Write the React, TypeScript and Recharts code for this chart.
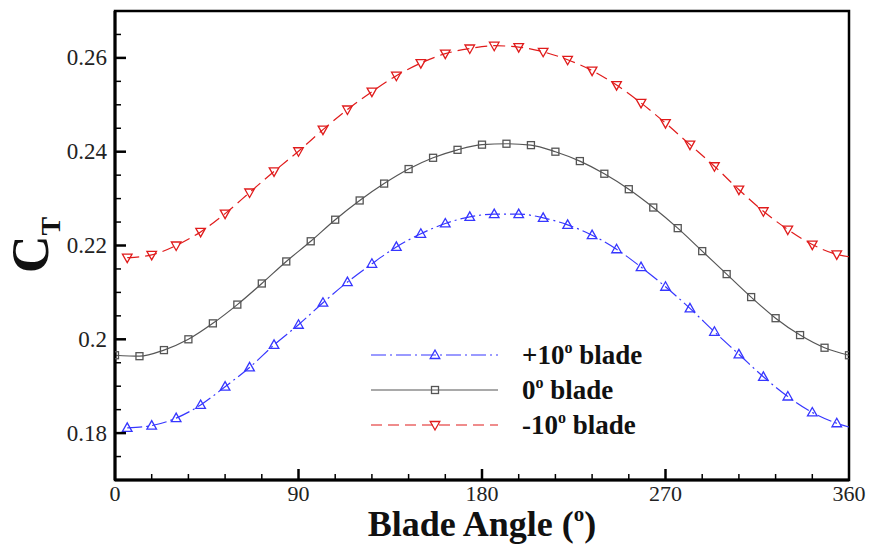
import React, { useLayoutEffect, useEffect, useRef } from 'react';
import { LineChart, Line, XAxis, YAxis, Legend, ReferenceArea } from 'recharts';

// ---- data ----
const sideAngles = [6, 18, 30, 42, 54, 66, 78, 90, 102, 114, 126, 138, 150, 162, 174, 186, 198, 210, 222, 234, 246, 258, 270, 282, 294, 306, 318, 330, 342, 354];
const midAngles = [0, 12, 24, 36, 48, 60, 72, 84, 96, 108, 120, 132, 144, 156, 168, 180, 192, 204, 216, 228, 240, 252, 264, 276, 288, 300, 312, 324, 336, 348, 360];

const plus10 = [0.1811, 0.1816, 0.1832, 0.1860, 0.1899, 0.1940, 0.1988, 0.2031, 0.2078, 0.2122, 0.2161, 0.2197, 0.2225, 0.2247, 0.2261, 0.2267, 0.2267, 0.2259, 0.2244, 0.2222, 0.2192, 0.2154, 0.2112, 0.2066, 0.2016, 0.1968, 0.1920, 0.1878, 0.1844, 0.1821];
const plus10End = 0.1813;

const zero = [0.1966, 0.1964, 0.1977, 0.2000, 0.2034, 0.2074, 0.2119, 0.2166, 0.2209, 0.2255, 0.2296, 0.2332, 0.2363, 0.2387, 0.2404, 0.2415, 0.2417, 0.2414, 0.2400, 0.2380, 0.2353, 0.2320, 0.2281, 0.2237, 0.2188, 0.2139, 0.2090, 0.2045, 0.2009, 0.1982, 0.1966];

const minus10 = [0.2174, 0.2180, 0.2200, 0.2229, 0.2268, 0.2313, 0.2358, 0.2401, 0.2447, 0.2490, 0.2528, 0.2562, 0.2589, 0.2609, 0.2620, 0.2626, 0.2623, 0.2613, 0.2596, 0.2573, 0.2542, 0.2504, 0.2461, 0.2415, 0.2369, 0.2319, 0.2273, 0.2234, 0.2202, 0.2181];
const minus10End = 0.2176;
const endAngle = 360;

const xTicks = [0, 18, 36, 54, 72, 90, 108, 126, 144, 162, 180, 198, 216, 234, 252, 270, 288, 306, 324, 342, 360];
const xLabels = [0, 90, 180, 270, 360];
const yTicks = [0.175, 0.18, 0.185, 0.19, 0.195, 0.2, 0.205, 0.21, 0.215, 0.22, 0.225, 0.23, 0.235, 0.24, 0.245, 0.25, 0.255, 0.26, 0.265];
const yLabels = [0.18, 0.2, 0.22, 0.24, 0.26];

const BLUE = '#3636ff';
const GRAY = '#555555';
const RED = '#e01b1b';
const FONT = 'Liberation Serif';

const blueData = [...sideAngles.map((a, i) => ({ a, v: plus10[i], m: true })), { a: endAngle, v: plus10End, m: false }];
const grayData = midAngles.map((a, i) => ({ a, v: zero[i], m: true }));
const redData = [...sideAngles.map((a, i) => ({ a, v: minus10[i], m: true })), { a: endAngle, v: minus10End, m: false }];

const triUp = (cx: number, cy: number, c: string) => (
  <path d={`M${cx},${cy - 5} L${cx + 4.8},${cy + 3.5} L${cx - 4.8},${cy + 3.5} Z`} fill="none" stroke={c} strokeWidth={1.3} />
);
const triDown = (cx: number, cy: number, c: string) => (
  <path d={`M${cx},${cy + 5} L${cx + 4.8},${cy - 3.5} L${cx - 4.8},${cy - 3.5} Z`} fill="none" stroke={c} strokeWidth={1.3} />
);
const square = (cx: number, cy: number, c: string) => (
  <rect x={cx - 3.5} y={cy - 3.5} width={7} height={7} fill="none" stroke={c} strokeWidth={1.3} />
);

const makeDot = (shape: (cx: number, cy: number, c: string) => any, c: string) => (props: any) => {
  const { cx, cy, payload, index } = props;
  if (!payload || !payload.m || cx == null || cy == null) return <g key={`d${index}`} />;
  return <g key={`d${index}`}>{shape(cx, cy, c)}</g>;
};

const XTick = (props: any) => {
  const { x, y, payload } = props;
  const v = payload.value;
  const major = xLabels.indexOf(v) >= 0;
  return (
    <g>
      {v !== 0 && v !== 360 && (
        <line x1={x} x2={x} y1={y} y2={y - (major ? 11 : 6)} stroke="#000" strokeWidth={major ? 2.5 : 1.5} />
      )}
      {major && (
        <text className="srf" x={x} y={y + 21} textAnchor="middle" fontFamily={FONT} fontSize={22} fill="#222">
          {v}
        </text>
      )}
    </g>
  );
};

const YTick = (props: any) => {
  const { x, y, payload } = props;
  const v = payload.value;
  const major = yLabels.some((l) => Math.abs(l - v) < 1e-9);
  return (
    <g>
      <line x1={x} x2={x + (major ? 11 : 6)} y1={y} y2={y} stroke="#000" strokeWidth={major ? 2.5 : 1.5} />
      {major && (
        <text className="srf" x={x - 8} y={y + 7.5} textAnchor="end" fontFamily={FONT} fontSize={23} fill="#222">
          {String(Math.round(v * 100) / 100)}
        </text>
      )}
    </g>
  );
};

const legendItems = [
  { name: '+10', color: BLUE, dash: '15 4 2 4', shape: triUp },
  { name: '0', color: GRAY, dash: undefined, shape: square },
  { name: '-10', color: RED, dash: '11 6', shape: triDown },
];

const LegendContent = () => (
  <svg width={320} height={110} style={{ overflow: 'visible' }}>
    {legendItems.map((it, i) => {
      const y = 20 + i * 35;
      return (
        <g key={it.name}>
          <line x1={11} x2={138} y1={y} y2={y} stroke={it.color} strokeWidth={1.2} strokeDasharray={it.dash} />
          {it.shape(75, y, it.color)}
          <text className="srf" x={162} y={y + 9} fontFamily={FONT} fontWeight="bold" fontSize={27} fill="#111">
            {it.name}
            <tspan fontSize={16} dy={-11}>o</tspan>
            <tspan dy={11}> blade</tspan>
          </text>
        </g>
      );
    })}
  </svg>
);

const css = `html body #root div.chartbox .recharts-wrapper svg text.srf, html body #root div.chartbox .recharts-wrapper svg text.srf tspan { font-family: "Liberation Serif", serif !important; }`;

export default function App() {
  const ref = useRef<HTMLDivElement>(null);
  const apply = () => {
    const el = ref.current;
    if (!el) return;
    el.querySelectorAll('text.srf, text.srf tspan').forEach((n: any) => {
      n.style.setProperty('font-family', 'Liberation Serif', 'important');
    });
  };
  useLayoutEffect(apply);
  useEffect(() => {
    apply();
    const t = setTimeout(apply, 50);
    return () => clearTimeout(t);
  });
  return (
    <div ref={ref} className="chartbox" style={{ position: 'absolute', left: 0, top: 0, width: 869, height: 548, background: '#fff' }}>
      <style>{css}</style>
      <LineChart width={869} height={548} margin={{ top: 11, right: 20, bottom: 0, left: 0 }}>
        <XAxis
          dataKey="a"
          type="number"
          domain={[0, 360]}
          ticks={xTicks}
          interval={0}
          height={68}
          tickSize={0}
          tickMargin={0}
          tickLine={false}
          tick={<XTick />}
          axisLine={{ stroke: '#000', strokeWidth: 3 }}
          allowDataOverflow
          label={{
            content: () => (
              <text className="srf" x={482} y={536} textAnchor="middle" fontFamily={FONT} fontWeight="bold" fontSize={36} fill="#111">
                Blade Angle (<tspan fontSize={21} dy={-15}>o</tspan>
                <tspan dy={15}>)</tspan>
              </text>
            ),
          }}
        />
        <YAxis
          type="number"
          domain={[0.17, 0.27]}
          ticks={yTicks}
          interval={0}
          width={115}
          tickSize={0}
          tickMargin={0}
          tickLine={false}
          tick={<YTick />}
          axisLine={{ stroke: '#000', strokeWidth: 3 }}
          allowDataOverflow
          label={{
            content: () => (
              <text className="srf" x={48} y={273} transform="rotate(-90 48 273)" fontFamily={FONT} fontWeight="bold" fontSize={52} fill="#111">
                C<tspan fontSize={28} dy={12}>T</tspan>
              </text>
            ),
          }}
        />
        <ReferenceArea x1={0} x2={360} y1={0.17} y2={0.27} fill="none" stroke="#000" strokeWidth={2.5} ifOverflow="visible" />
        <Legend
          layout="vertical"
          align="center"
          verticalAlign="middle"
          wrapperStyle={{ left: 360, top: 335, width: 320, height: 110 }}
          content={<LegendContent />}
        />
        <Line data={redData} dataKey="v" type="monotone" stroke={RED} strokeWidth={1.2} strokeDasharray="12 6" dot={makeDot(triDown, RED)} activeDot={false} isAnimationActive={false} />
        <Line data={grayData} dataKey="v" type="monotone" stroke={GRAY} strokeWidth={1.2} dot={makeDot(square, GRAY)} activeDot={false} isAnimationActive={false} />
        <Line data={blueData} dataKey="v" type="monotone" stroke={BLUE} strokeWidth={1.2} strokeDasharray="15 4 2 4" dot={makeDot(triUp, BLUE)} activeDot={false} isAnimationActive={false} />
      </LineChart>
    </div>
  );
}
